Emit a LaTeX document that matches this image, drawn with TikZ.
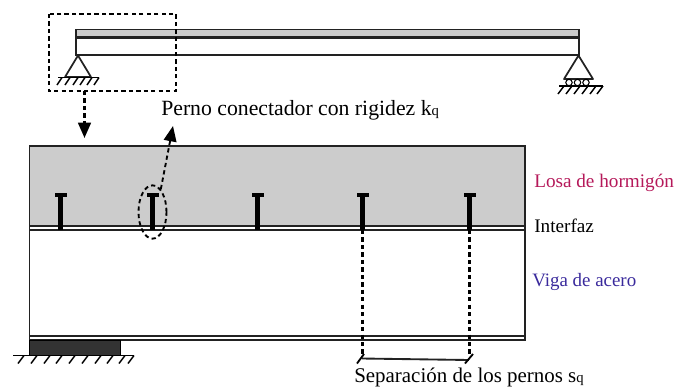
\documentclass[tikz,border=0pt]{standalone}
\usepackage{fontspec}
\setmainfont{Liberation Serif}
\usetikzlibrary{arrows.meta,shapes.geometric}
\definecolor{slabgray}{HTML}{CCCCCC}
\definecolor{losacol}{HTML}{B5195A}
\definecolor{vigacol}{HTML}{3A2A9C}
\definecolor{blockcol}{HTML}{333333}
\definecolor{linecol}{HTML}{222222}
\tikzset{
 member/.style={draw=linecol,line width=1.3pt},
 thinmember/.style={draw=linecol,line width=1.1pt},
 dashline/.style={draw=black,line width=1.4pt,dash pattern=on 3.2pt off 2.4pt},
 dashv/.style={draw=black,line width=1.9pt,dash pattern=on 3.2pt off 2.4pt},
 arrowed/.style={-{Triangle[length=11.5pt,width=9.5pt]}},
 hatch/.style={draw=black,line width=1.1pt},
 lbl/.style={anchor=west,inner sep=0pt,text=black}
}
\newcommand{\subq}{\raisebox{-0.5pt}{\fontsize{11}{12}\selectfont q}}
\begin{document}
\begin{tikzpicture}[x=0.75pt,y=-0.75pt]
\useasboundingbox (0,0) rectangle (676,387);
% top beam
\path[fill=slabgray] (76,29.5) rectangle (579,37.5);
\draw[member] (76,55) -- (76,29.5) -- (579,29.5) -- (579,55) -- cycle;
\draw[member,line width=1.7pt] (76,37.5) -- (579,37.5);
% left support
\coordinate (la) at (78,55.5);
\draw[member,line join=round] (la) -- (65,77) -- (91,77) -- cycle;
\draw[hatch] (58,77.5) -- (99,77.5);
\foreach \x in {62,70,78,85,92,99} \draw[hatch] (\x,77.5) -- (\x-5,85);
% right support
\coordinate (ra) at (578.5,55.5);
\draw[member,line join=round] (ra) -- (564,79) -- (593,79) -- cycle;
\foreach \x in {569,577.5,586} \draw[hatch,line width=0.8pt] (\x,82.5) circle (3.2);
\draw[hatch] (559,86) -- (603,86);
\foreach \x in {564,572,580,588,596,603} \draw[hatch] (\x,86) -- (\x-6,94);
% detail box
\draw[dashline] (49,14) rectangle (176,91);
\coordinate (boxb) at (84.5,91);
\coordinate (boxt) at (84.5,138);
\draw[dashv,arrowed] (boxb) -- (boxt);
% main slab
\path[fill=slabgray] (29.5,146) rectangle (525,226);
\draw[thinmember] (29.5,226) -- (29.5,146) -- (525,146) -- (525,340) -- (29.5,340) -- cycle;
\draw[thinmember] (29,226) -- (525,226);
\draw[thinmember] (29,230) -- (525,230);
\draw[thinmember] (29.5,230) -- (29.5,340);
\draw[thinmember] (29,336) -- (525,336);
% support block
\path[fill=blockcol,draw=black,line width=0.6pt] (29.5,340.5) rectangle (120,355);
\draw[hatch] (13,355.5) -- (134,355.5);
\foreach \x in {24,37,50,62,75,88,101,113,125,134} \draw[hatch] (\x,355.5) -- (\x-6,363.5);
% studs
\foreach \x in {60.5,152.5,257.5,362.5,469.5}{
 \fill[black] (\x-2.2,195) rectangle (\x+2.2,230);
 \fill[black] (\x-6,193) rectangle (\x+6,197);
}
% ellipse and arrow
\node[draw=black,line width=1.4pt,dash pattern=on 3.2pt off 2.4pt,ellipse,minimum width=21pt,minimum height=40pt,inner sep=0pt] (el) at (152.5,212) {};
\coordinate (tipk) at (173,126);
\draw[dashline,arrowed] (el.70) -- (tipk);
% separation
\draw[dashv] (362.5,230) -- (362.5,354);
\draw[dashv] (469.5,230) -- (469.5,354);
\coordinate (s1) at (362,358.5);
\coordinate (s2) at (469,360);
\draw[member,line width=1.4pt] (s1) -- (s2);
\draw[hatch,line width=1.4pt] (357,363.5) -- (364,354);
\draw[hatch,line width=1.4pt] (465,363.5) -- (473,354);
% labels
\node[lbl,font=\fontsize{16.3}{18}\selectfont] (t1) at (161,110) {Perno conectador con rigidez k\subq};
\node[lbl,text=losacol,font=\fontsize{14.4}{17}\selectfont] (t2) at (534,183) {Losa de hormigón};
\node[lbl,font=\fontsize{14.4}{17}\selectfont] (t3) at (534,225.5) {Interfaz};
\node[lbl,text=vigacol,font=\fontsize{14.2}{17}\selectfont] (t4) at (532,281.5) {Viga de acero};
\node[lbl,font=\fontsize{15.7}{18}\selectfont] (t5) at (354,377) {Separación de los pernos s\subq};
\end{tikzpicture}
\end{document}
